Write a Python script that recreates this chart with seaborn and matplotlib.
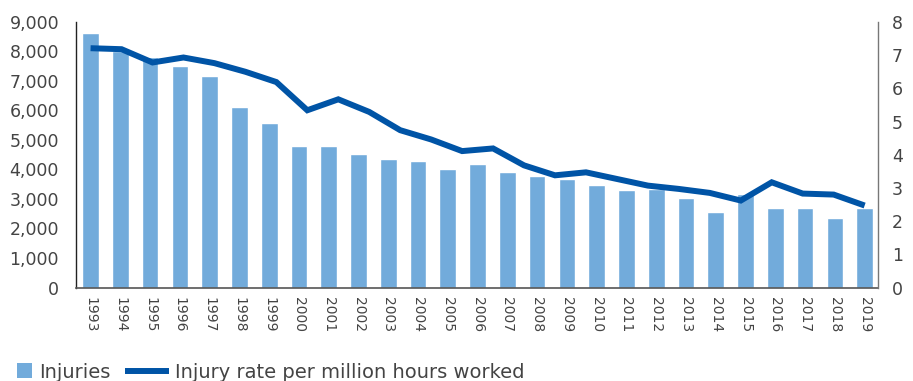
import numpy as np
import pandas as pd
import matplotlib
matplotlib.use("Agg")
import matplotlib.pyplot as plt
from matplotlib.lines import Line2D
from matplotlib.patches import Patch
import seaborn as sns

# Annual data
years = [str(y) for y in range(1993, 2020)]
injuries = [8630, 8000, 7810, 7500, 7160, 6110, 5560, 4780, 4780, 4510,
            4340, 4300, 4030, 4200, 3900, 3790, 3690, 3490, 3320, 3350,
            3050, 2570, 3180, 2700, 2700, 2360, 2700]
# Injury rate per million hours worked
rate = [7.21, 7.18, 6.78, 6.93, 6.76, 6.50, 6.19, 5.34, 5.67, 5.29,
        4.74, 4.46, 4.11, 4.19, 3.68, 3.38, 3.47, 3.27, 3.07, 2.97,
        2.85, 2.62, 3.17, 2.83, 2.80, 2.47]

left_ticks = [0, 1000, 2000, 3000, 4000, 5000, 6000, 7000, 8000, 9000]
right_ticks = [0, 1, 2, 3, 4, 5, 6, 7, 8]

BAR = "#72abdb"
LINE = "#0054a6"
TEXT = "#444444"

sns.set_theme(style="white")
plt.rcParams["font.family"] = ["DejaVu Sans"]

fig = plt.figure(figsize=(9.13, 3.81), dpi=100)
ax = fig.add_axes([0.0829, 0.2454, 0.8788, 0.6969])

df = pd.DataFrame({"year": years, "injuries": injuries})
sns.barplot(data=df, x="year", y="injuries", color=BAR, saturation=1,
            width=0.56, ax=ax)

ax2 = ax.twinx()
# rate series spread evenly across the full year span
rate_x = np.linspace(0, len(years) - 1, len(rate))
sns.lineplot(x=rate_x, y=rate, color=LINE, linewidth=4.3, ax=ax2,
             solid_joinstyle="miter", solid_capstyle="butt")

ax.set_xlim(-0.5, 26.45)
ax.set_ylim(0, 9000)
ax2.set_ylim(0, 8)
ax.set_xlabel("")
ax.set_ylabel("")
ax2.set_ylabel("")

ax.set_yticks(left_ticks)
ax.set_yticklabels([f"{v:,}" for v in left_ticks])
ax2.set_yticks(right_ticks)
ax2.set_yticklabels([str(v) for v in right_ticks])

ax.tick_params(axis="y", length=0, pad=12, labelsize=12.5, labelcolor=TEXT)
ax2.tick_params(axis="y", length=0, pad=10, labelsize=12.5, labelcolor=TEXT)
ax.tick_params(axis="x", length=0, pad=6.5, labelsize=10, labelcolor=TEXT,
               labelrotation=270)

for a in (ax, ax2):
    a.spines["top"].set_visible(False)
ax2.spines["left"].set_visible(False)
ax2.spines["bottom"].set_visible(False)
ax.spines["right"].set_visible(False)
ax.spines["left"].set_color("#222222")
ax.spines["left"].set_linewidth(1.0)
ax.spines["bottom"].set_color("#555555")
ax.spines["bottom"].set_linewidth(1.2)
ax2.spines["right"].set_color("#777777")
ax2.spines["right"].set_linewidth(1.0)

# Two legend entries, each with its own handle size
legend_y = 1 - 372 / 381
common = dict(loc="center left", frameon=False, fontsize=14,
              labelcolor=TEXT, borderpad=0, borderaxespad=0)
fig.legend([Patch(facecolor=BAR, edgecolor="none")], ["Injuries"],
           bbox_to_anchor=(16.6 / 913, legend_y),
           handlelength=0.8, handleheight=0.8, handletextpad=0.35, **common)
fig.legend([Line2D([0], [0], color=LINE, linewidth=4.3,
                   solid_capstyle="butt")],
           ["Injury rate per million hours worked"],
           bbox_to_anchor=(125 / 913, legend_y),
           handlelength=2.26, handletextpad=0.31, **common)

fig.savefig("out.png", dpi=100)
